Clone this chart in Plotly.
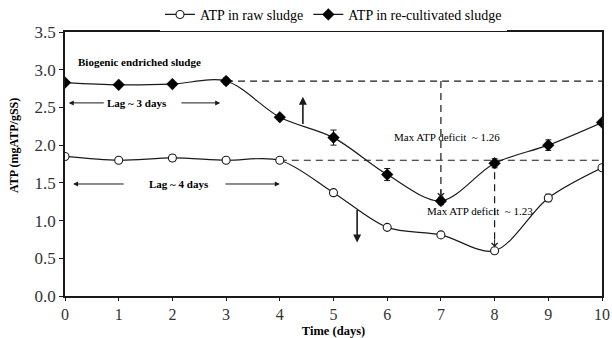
import plotly.graph_objects as go

days = [0, 1, 2, 3, 4, 5, 6, 7, 8, 9, 10]
raw_atp = [1.85, 1.80, 1.83, 1.80, 1.80, 1.37, 0.91, 0.81, 0.60, 1.30, 1.70]
raw_err = [0.03, 0.0, 0.04, 0.02, 0.0, 0.04, 0.0, 0.0, 0.0, 0.05, 0.03]
recult_atp = [2.83, 2.80, 2.81, 2.85, 2.37, 2.10, 1.61, 1.26, 1.76, 2.00, 2.30]
recult_err = [0.0, 0.0, 0.0, 0.04, 0.0, 0.10, 0.08, 0.05, 0.06, 0.07, 0.0]

FONT = "Liberation Serif"
INK = "#1a1a1a"

W, H = 612, 338
ML, MR, MT, MB = 65, 10, 32, 42

fig = go.Figure()
fig.add_trace(go.Scatter(
    x=days, y=raw_atp, name="ATP in raw sludge", mode="lines+markers",
    line=dict(color=INK, width=1.2, shape="spline", smoothing=0.9),
    marker=dict(symbol="circle", size=8, color="white", line=dict(color=INK, width=1.1)),
    error_y=dict(type="data", array=raw_err, color=INK, thickness=1, width=3),
))
fig.add_trace(go.Scatter(
    x=days, y=recult_atp, name="ATP in re-cultivated sludge", mode="lines+markers",
    line=dict(color=INK, width=1.2, shape="spline", smoothing=0.9),
    marker=dict(symbol="diamond", size=9, color="black", line=dict(color="black", width=0.5)),
    error_y=dict(type="data", array=recult_err, color=INK, thickness=1, width=3),
))

dash = dict(color=INK, width=1.2, dash="7px,5px")
fig.add_shape(type="line", x0=days[3], x1=days[10], y0=recult_atp[3], y1=recult_atp[3], line=dash, layer="below")
fig.add_shape(type="line", x0=days[4], x1=days[10], y0=raw_atp[4], y1=raw_atp[4], line=dash, layer="below")
fig.add_shape(type="line", x0=days[7], x1=days[7], y0=recult_atp[3], y1=recult_atp[7] + 0.06, line=dash, layer="below")
fig.add_shape(type="line", x0=days[8], x1=days[8], y0=raw_atp[4], y1=raw_atp[8] + 0.06, line=dash, layer="below")

anns = []
for xv, ytip in [(days[7], recult_atp[7] + 0.05), (days[8], raw_atp[8] + 0.05)]:
    anns.append(dict(x=xv, y=ytip, ax=xv, ay=ytip + 0.12, xref="x", yref="y", axref="x", ayref="y",
                     showarrow=True, arrowhead=4, arrowsize=1.2, arrowwidth=1, arrowcolor=INK, text=""))
anns.append(dict(x=4.43, y=2.64, ax=4.43, ay=2.26, xref="x", yref="y", axref="x", ayref="y",
                 showarrow=True, arrowhead=2, arrowsize=1, arrowwidth=1.6, arrowcolor=INK, text=""))
anns.append(dict(x=5.44, y=0.71, ax=5.44, ay=1.16, xref="x", yref="y", axref="x", ayref="y",
                 showarrow=True, arrowhead=2, arrowsize=1, arrowwidth=1.6, arrowcolor=INK, text=""))
for (xa, xb) in [(0.75, 0.07), (2.14, 2.89)]:
    anns.append(dict(x=xb, y=2.56, ax=xa, ay=2.56, xref="x", yref="y", axref="x", ayref="y",
                     showarrow=True, arrowhead=2, arrowsize=1, arrowwidth=1, arrowcolor=INK, text=""))
for (xa, xb) in [(1.12, 0.15), (2.96, 4.0)]:
    anns.append(dict(x=xb, y=1.485, ax=xa, ay=1.485, xref="x", yref="y", axref="x", ayref="y",
                     showarrow=True, arrowhead=2, arrowsize=1, arrowwidth=1, arrowcolor=INK, text=""))
txt = [
    ("<b>Lag ~ 3 days</b>", 1.34, 2.56),
    ("<b>Lag ~ 4 days</b>", 2.12, 1.485),
    ("<b>Biogenic endriched sludge</b>", 1.38, 3.10),
    ("Max ATP deficit  ~ 1.26", 7.11, 2.11),
    ("Max ATP deficit  ~ 1.23", 7.73, 1.13),
]
for t, xv, yv in txt:
    anns.append(dict(x=xv, y=yv, xref="x", yref="y", text=t, showarrow=False,
                     font=dict(family=FONT, size=11, color="black")))
plot_top, plot_bot = MT, H - MB
anns.append(dict(x=(14 - ML) / (W - ML - MR), y=(plot_bot - 146) / (plot_bot - plot_top),
                 xref="paper", yref="paper", xanchor="center", yanchor="middle",
                 text="<b>ATP (mgATP/gSS)</b>", showarrow=False, textangle=-90,
                 font=dict(family=FONT, size=12, color="black")))

fig.update_layout(
    width=W, height=H,
    margin=dict(l=ML, r=MR, t=MT, b=MB, autoexpand=False),
    paper_bgcolor="white", plot_bgcolor="white",
    font=dict(family=FONT, color="black"),
    showlegend=True,
    legend=dict(orientation="h", x=0.5, xanchor="center", y=1.065, yanchor="middle",
                bgcolor="white", font=dict(family=FONT, size=14, color="black"),
                itemwidth=30, tracegroupgap=0),
    annotations=anns,
    xaxis=dict(range=[0, 10], tickvals=days, ticktext=[str(d) for d in days],
               showgrid=False, zeroline=False, showline=True, linecolor=INK, linewidth=1.5,
               mirror=True, ticks="outside", ticklen=3, tickcolor=INK, automargin=False,
               tickfont=dict(family=FONT, size=16, color="#333"),
               title=dict(text="<b>Time (days)</b>", font=dict(family=FONT, size=12.5), standoff=6)),
    yaxis=dict(range=[0, 3.5], dtick=0.5, tickformat=".1f",
               showgrid=False, zeroline=False, showline=True, linecolor=INK, linewidth=1.5,
               mirror=True, ticks="outside", ticklen=4, tickcolor=INK, automargin=False,
               tickfont=dict(family=FONT, size=17, color="#333")),
)

fig.write_html("out.html", config={"displayModeBar": False},
               post_script="document.body.style.margin='0px';")
